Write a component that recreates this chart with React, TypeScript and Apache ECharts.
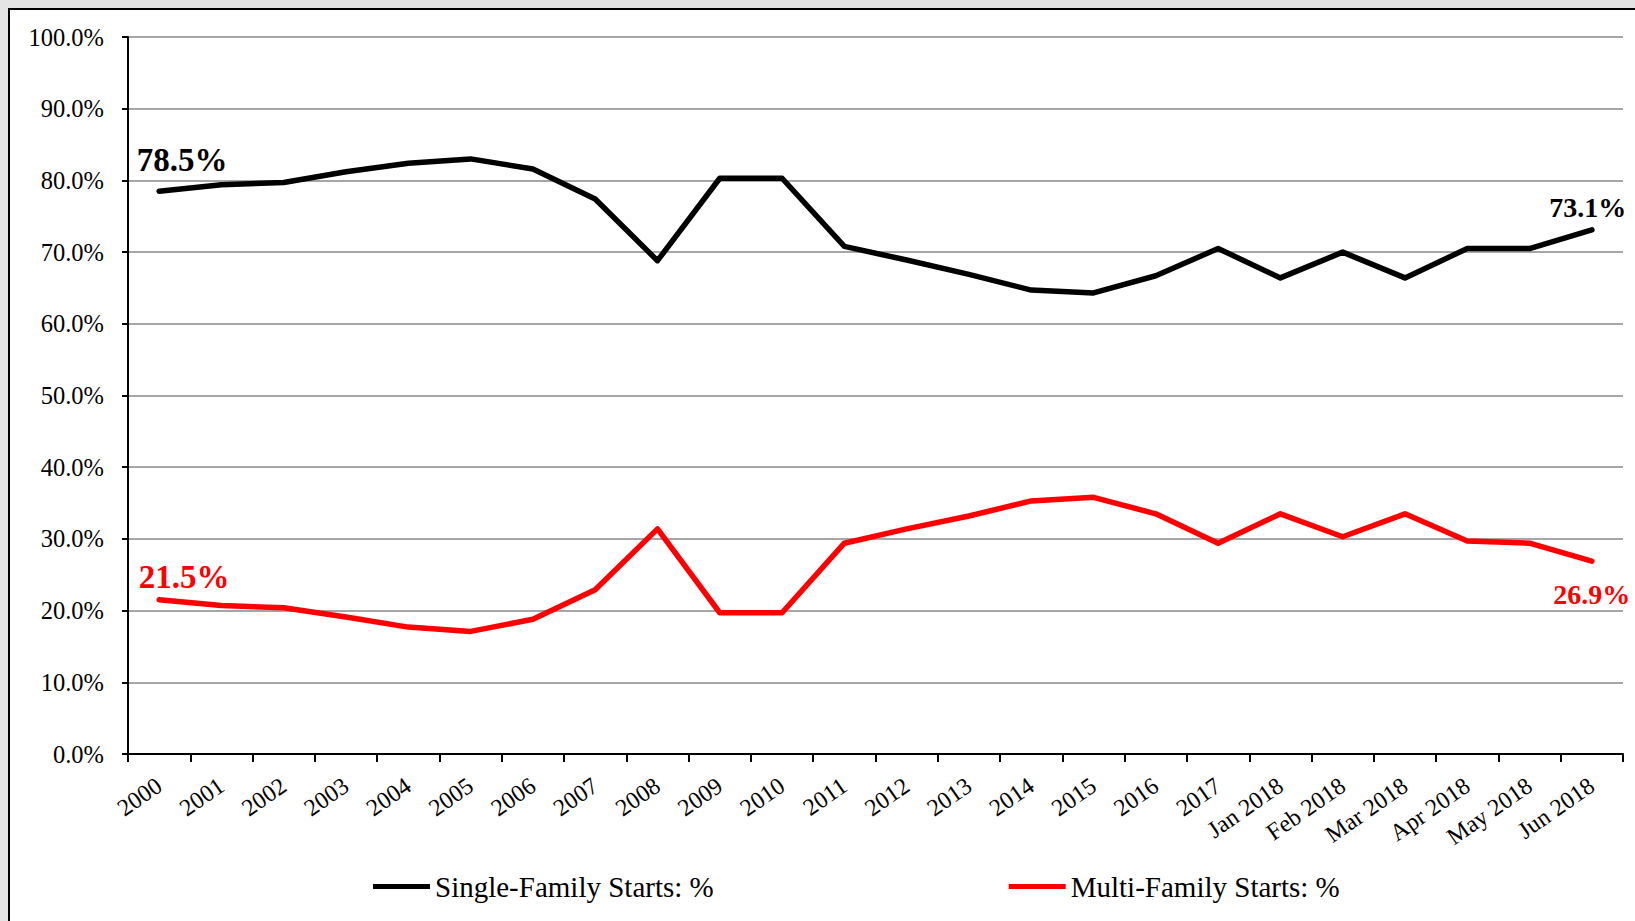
import React, { useEffect, useRef } from "react";
import * as echarts from "echarts";

const categories = [
  "2000", "2001", "2002", "2003", "2004", "2005", "2006", "2007", "2008", "2009",
  "2010", "2011", "2012", "2013", "2014", "2015", "2016", "2017",
  "Jan 2018", "Feb 2018", "Mar 2018", "Apr 2018", "May 2018", "Jun 2018",
];

const singleFamily = [
  78.5, 79.4, 79.7, 81.2, 82.4, 83.0, 81.6, 77.4, 68.8, 80.3,
  80.3, 70.8, 68.9, 66.9, 64.7, 64.3, 66.7, 70.5,
  66.4, 70.0, 66.4, 70.5, 70.5, 73.1,
];

const multiFamily = [
  21.5, 20.7, 20.4, 19.1, 17.7, 17.1, 18.8, 22.9, 31.4, 19.7,
  19.7, 29.4, 31.4, 33.2, 35.3, 35.8, 33.5, 29.4,
  33.5, 30.3, 33.5, 29.7, 29.4, 26.9,
];

const yTicks = { min: 0, max: 100, interval: 10 };

const seriesNames = ["Single-Family Starts: %", "Multi-Family Starts: %"];

const FONT = "'Liberation Serif', 'Times New Roman', serif";

function withEndLabels(
  values: number[],
  color: string,
  first: any,
  last: any
) {
  return values.map((v, i) => {
    if (i === 0) {
      return {
        value: v,
        label: {
          show: true,
          formatter: v.toFixed(1) + "%",
          color,
          fontFamily: FONT,
          fontWeight: "bold",
          ...first,
        },
      };
    }
    if (i === values.length - 1) {
      return {
        value: v,
        label: {
          show: true,
          formatter: v.toFixed(1) + "%",
          color,
          fontFamily: FONT,
          fontWeight: "bold",
          ...last,
        },
      };
    }
    return v;
  });
}

export default function App() {
  const ref = useRef<HTMLDivElement>(null);

  useEffect(() => {
    if (!ref.current) return;
    const chart = echarts.init(ref.current, null, { renderer: "svg" });
    chart.setOption({
      animation: false,
      grid: { left: 128, right: 12, top: 37, bottom: 167, containLabel: false },
      legend: {
        left: 368,
        top: 867,
        itemGap: 295,
        icon: "rect",
        itemWidth: 57,
        itemHeight: 5,
        textStyle: { fontFamily: FONT, fontSize: 29, color: "#000" },
        data: seriesNames,
      },
      xAxis: {
        type: "category",
        data: categories,
        boundaryGap: true,
        axisLine: { show: true, lineStyle: { color: "#000", width: 2 } },
        axisTick: {
          show: true,
          alignWithLabel: false,
          length: 8,
          lineStyle: { color: "#000", width: 2 },
        },
        axisLabel: {
          interval: 0,
          rotate: 35,
          margin: 29,
          fontFamily: FONT,
          fontSize: 24,
          color: "#000",
        },
        splitLine: { show: false },
      },
      yAxis: {
        type: "value",
        min: yTicks.min,
        max: yTicks.max,
        interval: yTicks.interval,
        axisLine: { show: true, lineStyle: { color: "#000", width: 2 } },
        axisTick: { show: true, length: 6, lineStyle: { color: "#000", width: 2 } },
        axisLabel: {
          margin: 24,
          fontFamily: FONT,
          fontSize: 24.5,
          color: "#000",
          formatter: (v: number) => v.toFixed(1) + "%",
        },
        splitLine: { show: true, lineStyle: { color: "#a6a6a6", width: 2 } },
      },
      series: [
        {
          name: seriesNames[0],
          type: "line",
          data: withEndLabels(
            singleFamily,
            "#000",
            { position: "top", distance: 0, fontSize: 33, offset: [23, -15] },
            { position: "top", distance: 0, fontSize: 28, offset: [-4, -8] }
          ),
          symbol: "circle",
          symbolSize: 0.1,
          showSymbol: true,
          itemStyle: { color: "#000" },
          lineStyle: { color: "#000", width: 5.5, cap: "round", join: "round" },
          z: 3,
        },
        {
          name: seriesNames[1],
          type: "line",
          data: withEndLabels(
            multiFamily,
            "#ff0000",
            { position: "top", distance: 0, fontSize: 33, offset: [25, -6] },
            { position: "bottom", distance: 0, fontSize: 28, offset: [0, 19] }
          ),
          symbol: "circle",
          symbolSize: 0.1,
          showSymbol: true,
          itemStyle: { color: "#ff0000" },
          lineStyle: { color: "#ff0000", width: 5.5, cap: "round", join: "round" },
          z: 3,
        },
      ],
    });
    return () => chart.dispose();
  }, []);

  return (
    <div
      style={{
        position: "fixed",
        left: 0,
        top: 0,
        width: 1635,
        height: 921,
        background: "#e4e4e4",
        overflow: "hidden",
      }}
    >
      <div
        style={{
          position: "absolute",
          left: 8,
          top: 8,
          width: 1700,
          height: 1000,
          background: "#ffffff",
          borderLeft: "2px solid #000",
          borderTop: "2px solid #000",
        }}
      />
      <div
        ref={ref}
        style={{ position: "absolute", left: 0, top: 0, width: 1635, height: 921 }}
      />
    </div>
  );
}
